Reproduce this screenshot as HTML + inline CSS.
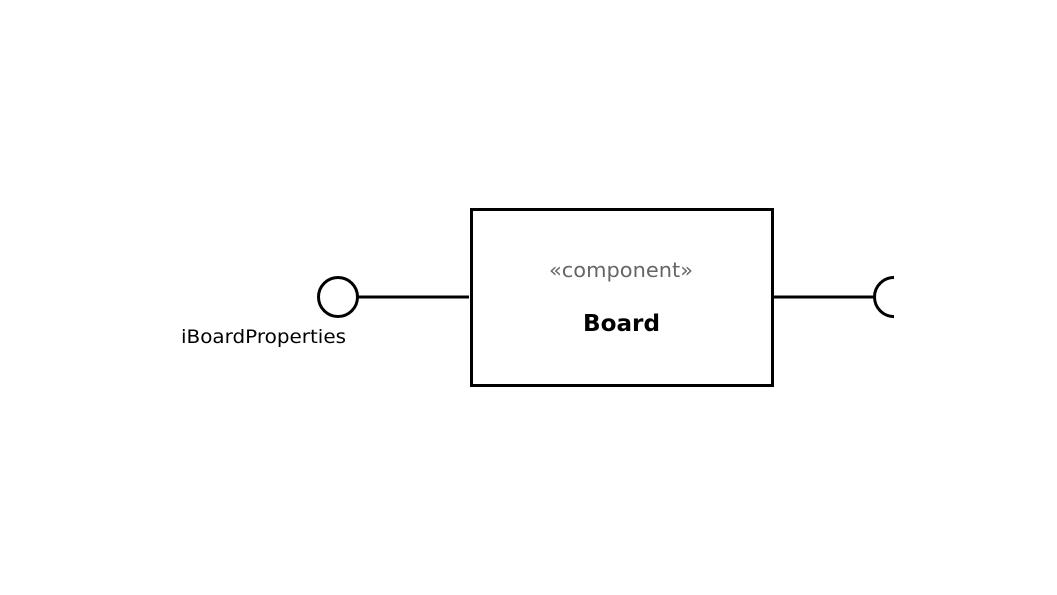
<!DOCTYPE html>
<html><head><meta charset="utf-8"><style>
html,body{margin:0;padding:0;background:#fff;width:1057px;height:595px;overflow:hidden}
</style></head><body>
<svg width="1057" height="595" xmlns="http://www.w3.org/2000/svg">
<rect x="471.5" y="209.5" width="301" height="176" fill="#fff" stroke="#000" stroke-width="3"/>
<circle cx="338" cy="297" r="19.5" fill="#fff" stroke="#000" stroke-width="3"/>
<line x1="357.5" y1="297" x2="469" y2="297" stroke="#000" stroke-width="3"/>
<line x1="774" y1="297" x2="875" y2="297" stroke="#000" stroke-width="3"/>
<path d="M894 277.5 A19.5 19.5 0 0 0 894 316.5" fill="none" stroke="#000" stroke-width="3"/>
<text x="549" y="277" textLength="144" lengthAdjust="spacingAndGlyphs" font-family="DejaVu Sans, sans-serif" font-size="20" fill="#666">«component»</text>
<text x="583" y="331" textLength="77" lengthAdjust="spacingAndGlyphs" font-family="DejaVu Sans, sans-serif" font-size="23" font-weight="bold" fill="#000">Board</text>
<text x="181" y="343" textLength="165" lengthAdjust="spacingAndGlyphs" font-family="DejaVu Sans, sans-serif" font-size="19" fill="#000">iBoardProperties</text>
</svg>
</body></html>
